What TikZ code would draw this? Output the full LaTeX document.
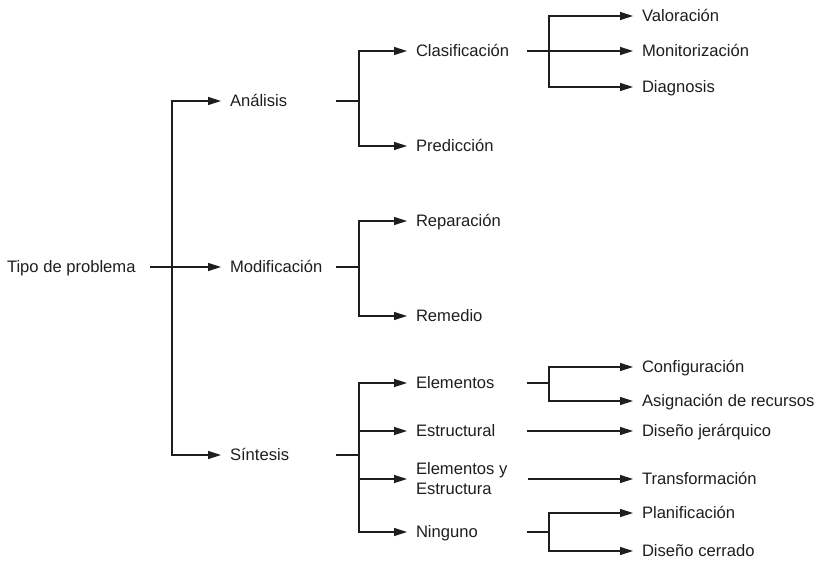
\documentclass[tikz,border=0pt]{standalone}
\usepackage{fontspec}
\setmainfont{Liberation Sans}
\usetikzlibrary{arrows.meta}
\definecolor{ink}{RGB}{30,30,30}
\begin{document}
\begin{tikzpicture}[x=1pt,y=-1pt,
  lbl/.style={font=\fontsize{16.6}{20}\selectfont, text=ink, inner sep=0pt, outer xsep=9pt, outer ysep=0pt, text height=11.9pt, text depth=0pt, anchor=west},
  lbltwo/.style={font=\fontsize{16.6}{20}\selectfont, text=ink, inner sep=0pt, outer xsep=9pt, outer ysep=0pt, align=left, anchor=west},
  ln/.style={line width=1.3pt, draw=ink},
  arr/.style={ln, -{Triangle[length=13pt,width=8pt]}},
  stub/.style={line width=2.1pt, draw=ink}]
\useasboundingbox (0,0) rectangle (818,561);
% nodes
\node[lbl] (tipo) at (-2,267) {Tipo de problema};
\node[lbl] (ana) at (221,101) {Análisis};
\node[lbl] (mod) at (221,267) {Modificación};
\node[lbl] (sin) at (221,455) {Síntesis};
\node[lbl] (cla) at (407,51) {Clasificación};
\node[lbl] (pre) at (407,146) {Predicción};
\node[lbl] (rep) at (407,221) {Reparación};
\node[lbl] (rem) at (407,316) {Remedio};
\node[lbl] (ele) at (407,383) {Elementos};
\node[lbl] (est) at (407,431) {Estructural};
\node[lbltwo] (eye) at (407,479) {Elementos y\\Estructura};
\node[lbl] (nin) at (407,532) {Ninguno};
\node[lbl] (val) at (633,16) {Valoración};
\node[lbl] (mon) at (633,51) {Monitorización};
\node[lbl] (dia) at (633,87) {Diagnosis};
\node[lbl] (con) at (633,367) {Configuración};
\node[lbl] (asi) at (633,401) {Asignación de recursos};
\node[lbl] (dje) at (633,431) {Diseño jerárquico};
\node[lbl] (tra) at (633,479) {Transformación};
\node[lbl] (pla) at (633,513) {Planificación};
\node[lbl] (dce) at (633,551) {Diseño cerrado};
% coordinates
\coordinate (t0) at (150,267);
\coordinate (j0) at (172,267);
\coordinate (a0) at (336,101); \coordinate (a1) at (359,101);
\coordinate (m0) at (336,267); \coordinate (m1) at (359,267);
\coordinate (s0) at (336,455); \coordinate (s1) at (359,455);
\coordinate (c0) at (527,51);  \coordinate (c1) at (549,51);
\coordinate (e0) at (527,383); \coordinate (e1) at (549,383);
\coordinate (r0) at (527,431);
\coordinate (y0) at (528,479);
\coordinate (n0) at (527,532); \coordinate (n1) at (549,532);
% connectors
\draw[arr] (t0) -- (mod);
\draw[arr] (j0) |- (ana);
\draw[arr] (j0) |- (sin);
\draw[stub] (a0) -- (a1);
\draw[arr] (a1) |- (cla);
\draw[arr] (a1) |- (pre);
\draw[stub] (m0) -- (m1);
\draw[arr] (m1) |- (rep);
\draw[arr] (m1) |- (rem);
\draw[stub] (s0) -- (s1);
\draw[arr] (s1) |- (ele);
\draw[arr] (s1) |- (est);
\draw[arr] (s1) |- (eye);
\draw[arr] (s1) |- (nin);
\draw[arr] (c0) -- (mon);
\draw[arr] (c1) |- (val);
\draw[arr] (c1) |- (dia);
\draw[stub] (e0) -- (e1);
\draw[arr] (e1) |- (con);
\draw[arr] (e1) |- (asi);
\draw[arr] (r0) -- (dje);
\draw[arr] (y0) -- (tra);
\draw[stub] (n0) -- (n1);
\draw[arr] (n1) |- (pla);
\draw[arr] (n1) |- (dce);
\end{tikzpicture}
\end{document}
